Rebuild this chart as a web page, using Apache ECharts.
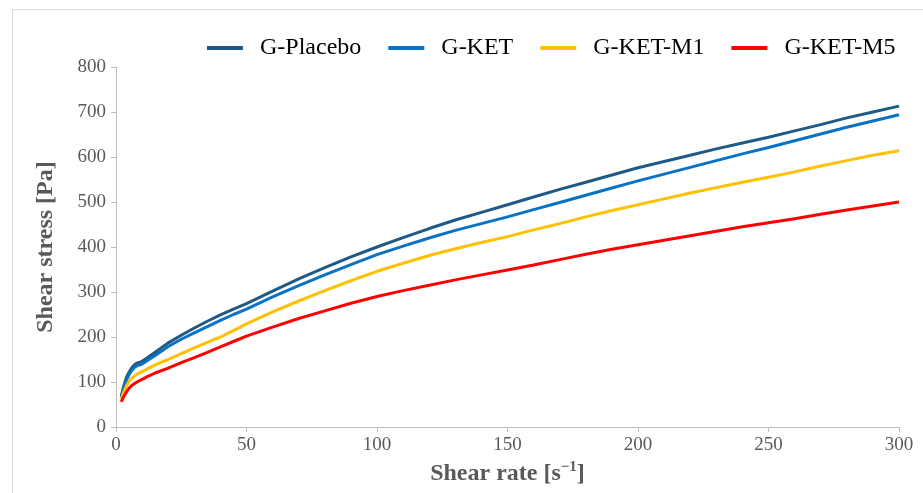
<!DOCTYPE html>
<html>
<head>
<meta charset="utf-8">
<script src="https://cdn.jsdelivr.net/npm/echarts@6/dist/echarts.min.js"></script>
<style>
html,body{margin:0;padding:0;background:#fff;}
#chart{width:923px;height:493px;}
</style>
</head>
<body>
<div id="chart"></div>
<script>
var shearRate = [2,3,4,5,6,7,8,10,12,15,20,25,30,35,40,45,50,60,70,80,90,100,110,120,130,140,150,160,170,180,190,200,210,220,230,240,250,260,270,280,290,300];
var gPlacebo = [68,92,110,122,131,138,142,146,154,166,187,204,220,235,249,262,274,302,329,354,378,400,421,441,460,477,494,511,528,544,560,576,590,604,618,631,644,658,672,687,700,713];
var gKet = [65,88,104,116,125,132,136,140,148,159,179,195,209,223,237,250,262,289,314,338,361,383,402,420,437,452,467,483,499,515,531,547,562,577,592,607,621,636,651,666,680,694];
var gKetM1 = [62,78,92,101,108,113,117,123,129,138,150,163,176,188,200,214,229,256,280,303,325,346,364,381,396,410,423,438,452,467,481,494,507,520,532,544,555,567,580,592,604,614];
var gKetM5 = [56,68,78,86,92,96,100,106,112,120,131,143,154,166,178,190,202,222,241,258,275,290,303,315,327,338,349,360,372,384,395,405,415,425,435,445,454,463,473,482,491,500];
var seriesNames = ['G-Placebo','G-KET','G-KET-M1','G-KET-M5'];
var seriesColors = ['#1F5A87','#0A72C4','#FFC000','#FF0000'];
var xTicks = [0,50,100,150,200,250,300];
var yTicks = [0,100,200,300,400,500,600,700,800];

function pairs(ys){ return shearRate.map(function(x,i){ return [x, ys[i]]; }); }
var allData = [gPlacebo, gKet, gKetM1, gKetM5];

var serif = 'Liberation Serif';
var chart = echarts.init(document.getElementById('chart'));
chart.setOption({
  animation:false,
  backgroundColor:'#fff',
  graphic:[{type:'rect',shape:{x:12.5,y:9.5,width:1000,height:1000},style:{fill:'none',stroke:'#d9d9d9',lineWidth:1},silent:true}],
  grid:{left:116,right:24,top:67,bottom:66},
  legend:{
    top:31,left:202,
    icon:'rect',itemWidth:36,itemHeight:4,itemGap:27,
    textStyle:{fontFamily:serif,fontSize:24,color:'#000',padding:[0,0,0,12]},
    data:seriesNames
  },
  xAxis:{
    type:'value',min:xTicks[0],max:xTicks[xTicks.length-1],interval:50,
    axisLine:{show:true,lineStyle:{color:'#bfbfbf',width:1}},
    axisTick:{show:true,inside:false,length:5,lineStyle:{color:'#bfbfbf'}},
    splitLine:{show:false},
    axisLabel:{fontFamily:serif,fontSize:19,color:'#595959',margin:9},
    name:'{a|Shear rate [s}{b|\u22121}{a|]}',
    nameLocation:'middle',nameGap:32,
    nameTextStyle:{rich:{
      a:{fontFamily:serif,fontSize:24,fontWeight:'bold',color:'#595959'},
      b:{fontFamily:serif,fontSize:15,fontWeight:'bold',color:'#595959',padding:[0,0,12,0]}
    }}
  },
  yAxis:{
    type:'value',min:yTicks[0],max:yTicks[yTicks.length-1],interval:100,
    axisLine:{show:true,lineStyle:{color:'#bfbfbf',width:1}},
    axisTick:{show:true,inside:false,length:5,lineStyle:{color:'#bfbfbf'}},
    splitLine:{show:false},
    axisLabel:{fontFamily:serif,fontSize:19,color:'#595959',margin:10},
    name:'Shear stress [Pa]',
    nameLocation:'middle',nameGap:58,
    nameTextStyle:{fontFamily:serif,fontSize:24,fontWeight:'bold',color:'#595959'}
  },
  series:seriesNames.map(function(n,i){
    return {name:n,type:'line',data:pairs(allData[i]),showSymbol:false,symbol:'none',
      color:seriesColors[i],lineStyle:{width:3,color:seriesColors[i]}};
  })
});
</script>
</body>
</html>
